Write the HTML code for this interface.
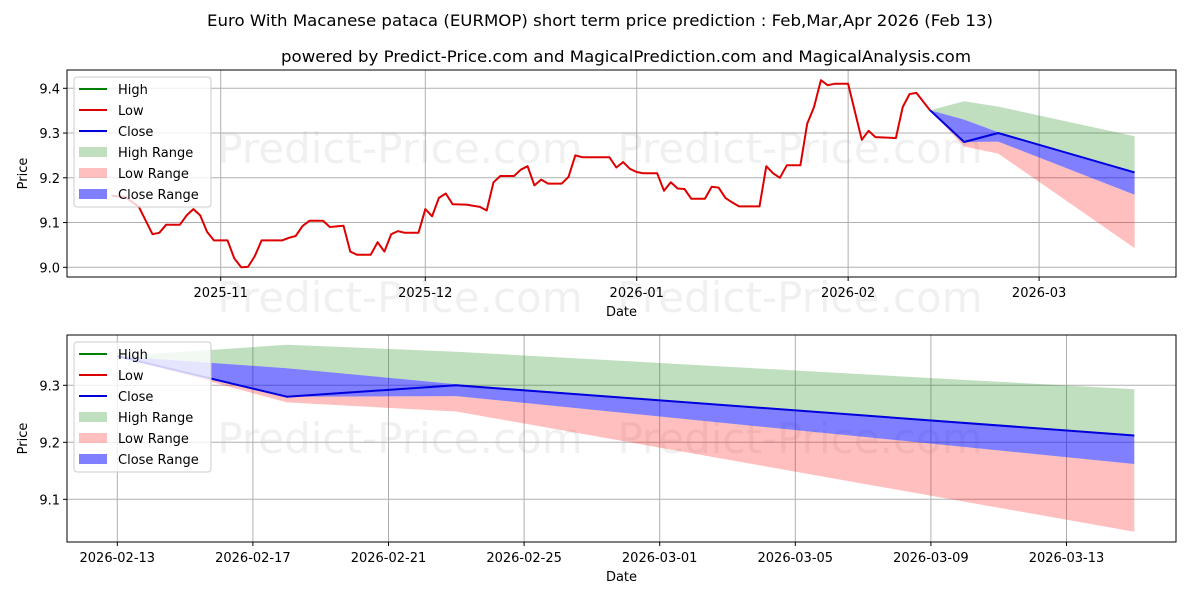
<!DOCTYPE html>
<html><head><meta charset="utf-8"><style>
html,body{margin:0;padding:0;background:#fff;}
svg{display:block;font-family:"DejaVu Sans","Liberation Sans",sans-serif;}
</style></head><body>
<svg id="chart" width="1200" height="600" viewBox="0 0 1200 600" xmlns="http://www.w3.org/2000/svg">
<rect width="1200" height="600" fill="#fff"/>
<text x="400" y="312" text-anchor="middle" font-size="42" fill="#000" fill-opacity="0.06">Predict-Price.com</text>
<text x="800" y="312" text-anchor="middle" font-size="42" fill="#000" fill-opacity="0.06">Predict-Price.com</text>
<text x="600" y="26" text-anchor="middle" font-size="16" textLength="786" lengthAdjust="spacingAndGlyphs">Euro With Macanese pataca (EURMOP) short term price prediction : Feb,Mar,Apr 2026 (Feb 13)</text>
<text x="626" y="62" text-anchor="middle" font-size="16" textLength="690" lengthAdjust="spacingAndGlyphs">powered by Predict-Price.com and MagicalPrediction.com and MagicalAnalysis.com</text>
<g id="top"></g>
<g id="bot"></g>
</svg>
<script>
// historical low/close series: days since 2025-11-01
const histDays = [-16,-14,-12,-10,-9,-8,-6,-5,-4,-3,-2,-1,1,2,3,4,5,6,9,10,11,12,13,15,16,18,19,20,22,23,24,25,26,27,29,30,31,32,33,34,36,38,39,40,41,43,44,45,46,47,48,50,51,52,53,57,58,59,60,61,62,64,65,66,67,68,69,71,72,73,74,75,76,79,80,81,82,83,85,86,87,88,89,90,92,94,95,96,99,100,101,102,104];
const histVals = [9.16,9.157,9.135,9.074,9.077,9.095,9.095,9.116,9.13,9.116,9.079,9.06,9.06,9.02,9.0,9.001,9.025,9.06,9.06,9.066,9.07,9.092,9.104,9.104,9.09,9.093,9.035,9.028,9.028,9.056,9.035,9.074,9.081,9.077,9.077,9.13,9.114,9.155,9.165,9.141,9.14,9.135,9.127,9.19,9.204,9.204,9.218,9.226,9.183,9.196,9.187,9.187,9.202,9.25,9.246,9.246,9.223,9.235,9.22,9.213,9.21,9.21,9.171,9.19,9.176,9.175,9.153,9.153,9.18,9.178,9.155,9.145,9.136,9.136,9.226,9.21,9.2,9.228,9.228,9.321,9.358,9.418,9.407,9.41,9.41,9.285,9.305,9.291,9.289,9.358,9.387,9.39,9.351];
// forecast
const fcDays = [104,109,114,134];
const fcHigh = [9.351,9.371,9.359,9.293];
const fcClose = [9.351,9.280,9.300,9.212];
const fcLow = [9.351,9.270,9.254,9.043];
const fcCloseUp = [9.351,9.330,9.302,9.212];
const fcCloseLo = [9.351,9.280,9.281,9.162];
const topYTicks = [9.0,9.1,9.2,9.3,9.4];
const topXTicks = [0,30,61,92,120];
const topXLabels = ["2025-11","2025-12","2026-01","2026-02","2026-03"];
const botYTicks = [9.1,9.2,9.3];
const botXTicks = [104,108,112,116,120,124,128,132];
const botXLabels = ["2026-02-13","2026-02-17","2026-02-21","2026-02-25","2026-03-01","2026-03-05","2026-03-09","2026-03-13"];

const NS="http://www.w3.org/2000/svg";
function mk(parent,tag,attrs,name,text){const e=document.createElementNS(NS,tag);for(const k in attrs)e.setAttribute(k,attrs[k]);


if(text!==undefined)e.textContent=text;parent.appendChild(e);return e;}
function pts(xs,ys,fx,fy){return xs.map((d,i)=>fx(d).toFixed(1)+","+fy(ys[i]).toFixed(1)).join(" ");}
function band(xs,up,lo,fx,fy){return pts(xs,up,fx,fy)+" "+pts(xs.slice().reverse(),lo.slice().reverse(),fx,fy);}

function panel(g,box,fx,fy,yT,xT,xL,showHist,wy){
  const [L,T,R,B]=box;
  mk(g,'text',{x:400,y:wy,'text-anchor':'middle','font-size':42,fill:'#000','fill-opacity':0.06},'watermark','Predict-Price.com');
  mk(g,'text',{x:800,y:wy,'text-anchor':'middle','font-size':42,fill:'#000','fill-opacity':0.06},'watermark','Predict-Price.com');
  yT.forEach(v=>{const y=fy(v);mk(g,'line',{x1:L,x2:R,y1:y,y2:y,stroke:'#b0b0b0','stroke-width':1},'y-gridline');
    mk(g,'line',{x1:L-4,x2:L,y1:y,y2:y,stroke:'#000'},'y-tick');
    mk(g,'text',{x:L-7,y:y+5,'text-anchor':'end','font-size':13},'y-tick-label',v.toFixed(1));});
  xT.forEach((d,i)=>{const x=fx(d);mk(g,'line',{x1:x,x2:x,y1:T,y2:B,stroke:'#b0b0b0','stroke-width':1},'x-gridline');
    mk(g,'line',{x1:x,x2:x,y1:B,y2:B+4,stroke:'#000'},'x-tick');
    mk(g,'text',{x:x,y:B+20,'text-anchor':'middle','font-size':13},'x-tick-label',xL[i]);});
  mk(g,'polygon',{points:band(fcDays,fcHigh,fcCloseUp,fx,fy),fill:'#008000','fill-opacity':0.25},'high-range-band');
  mk(g,'polygon',{points:band(fcDays,fcCloseLo,fcLow,fx,fy),fill:'#ff0000','fill-opacity':0.25},'low-range-band');
  mk(g,'polygon',{points:band(fcDays,fcCloseUp,fcCloseLo,fx,fy),fill:'#0000ff','fill-opacity':0.5},'close-range-band');
  if(showHist) mk(g,'polyline',{points:pts(histDays,histVals,fx,fy),fill:'none',stroke:'#dd0000','stroke-width':2,'stroke-linejoin':'round'},'low-line');
  mk(g,'polyline',{points:pts(fcDays,fcClose,fx,fy),fill:'none',stroke:'#0000dd','stroke-width':2,'stroke-linejoin':'round'},'close-line');
  mk(g,'rect',{x:L,y:T,width:R-L,height:B-T,fill:'none',stroke:'#000','stroke-width':1},'plot-frame');
  mk(g,'text',{x:(L+R)/2,y:B+39,'text-anchor':'middle','font-size':13},'x-axis-title','Date');
  mk(g,'text',{x:0,y:0,'text-anchor':'middle','font-size':13,transform:`translate(27,${(T+B)/2}) rotate(-90)`},'y-axis-title','Price');
  const lg=mk(g,'g',{},'legend');
  mk(lg,'rect',{x:L+7,y:T+7,width:137,height:130,rx:3,fill:'#fff','fill-opacity':0.8,stroke:'#ccc'},'legend-box');
  const items=[['High','line','#008000'],['Low','line','#dd0000'],['Close','line','#0000dd'],['High Range','rect','rgba(0,128,0,0.25)'],['Low Range','rect','rgba(255,0,0,0.25)'],['Close Range','rect','rgba(0,0,255,0.5)']];
  items.forEach((it,i)=>{const y=T+19+i*21;
    if(it[1]=='line')mk(lg,'line',{x1:L+12,x2:L+40,y1:y,y2:y,stroke:it[2],'stroke-width':2},'legend-swatch');
    else mk(lg,'rect',{x:L+12,y:y-5,width:28,height:10,fill:it[2]},'legend-swatch');
    mk(lg,'text',{x:L+51,y:y+5,'font-size':13},'legend-entry',it[0]);});
}
const tBox=[67,70,1176,277];
const tx=d=>220.7+d*6.82, ty=v=>267.3-(v-9.0)*447.5;
panel(document.getElementById('top'),tBox,tx,ty,topYTicks,topXTicks,topXLabels,true,163);
const bBox=[67,335,1176,542];
const bx=d=>117.3+(d-104)*33.9, by=v=>385.3-(v-9.3)*570;
panel(document.getElementById('bot'),bBox,bx,by,botYTicks,botXTicks,botXLabels,false,453);
</script>
</body></html>
